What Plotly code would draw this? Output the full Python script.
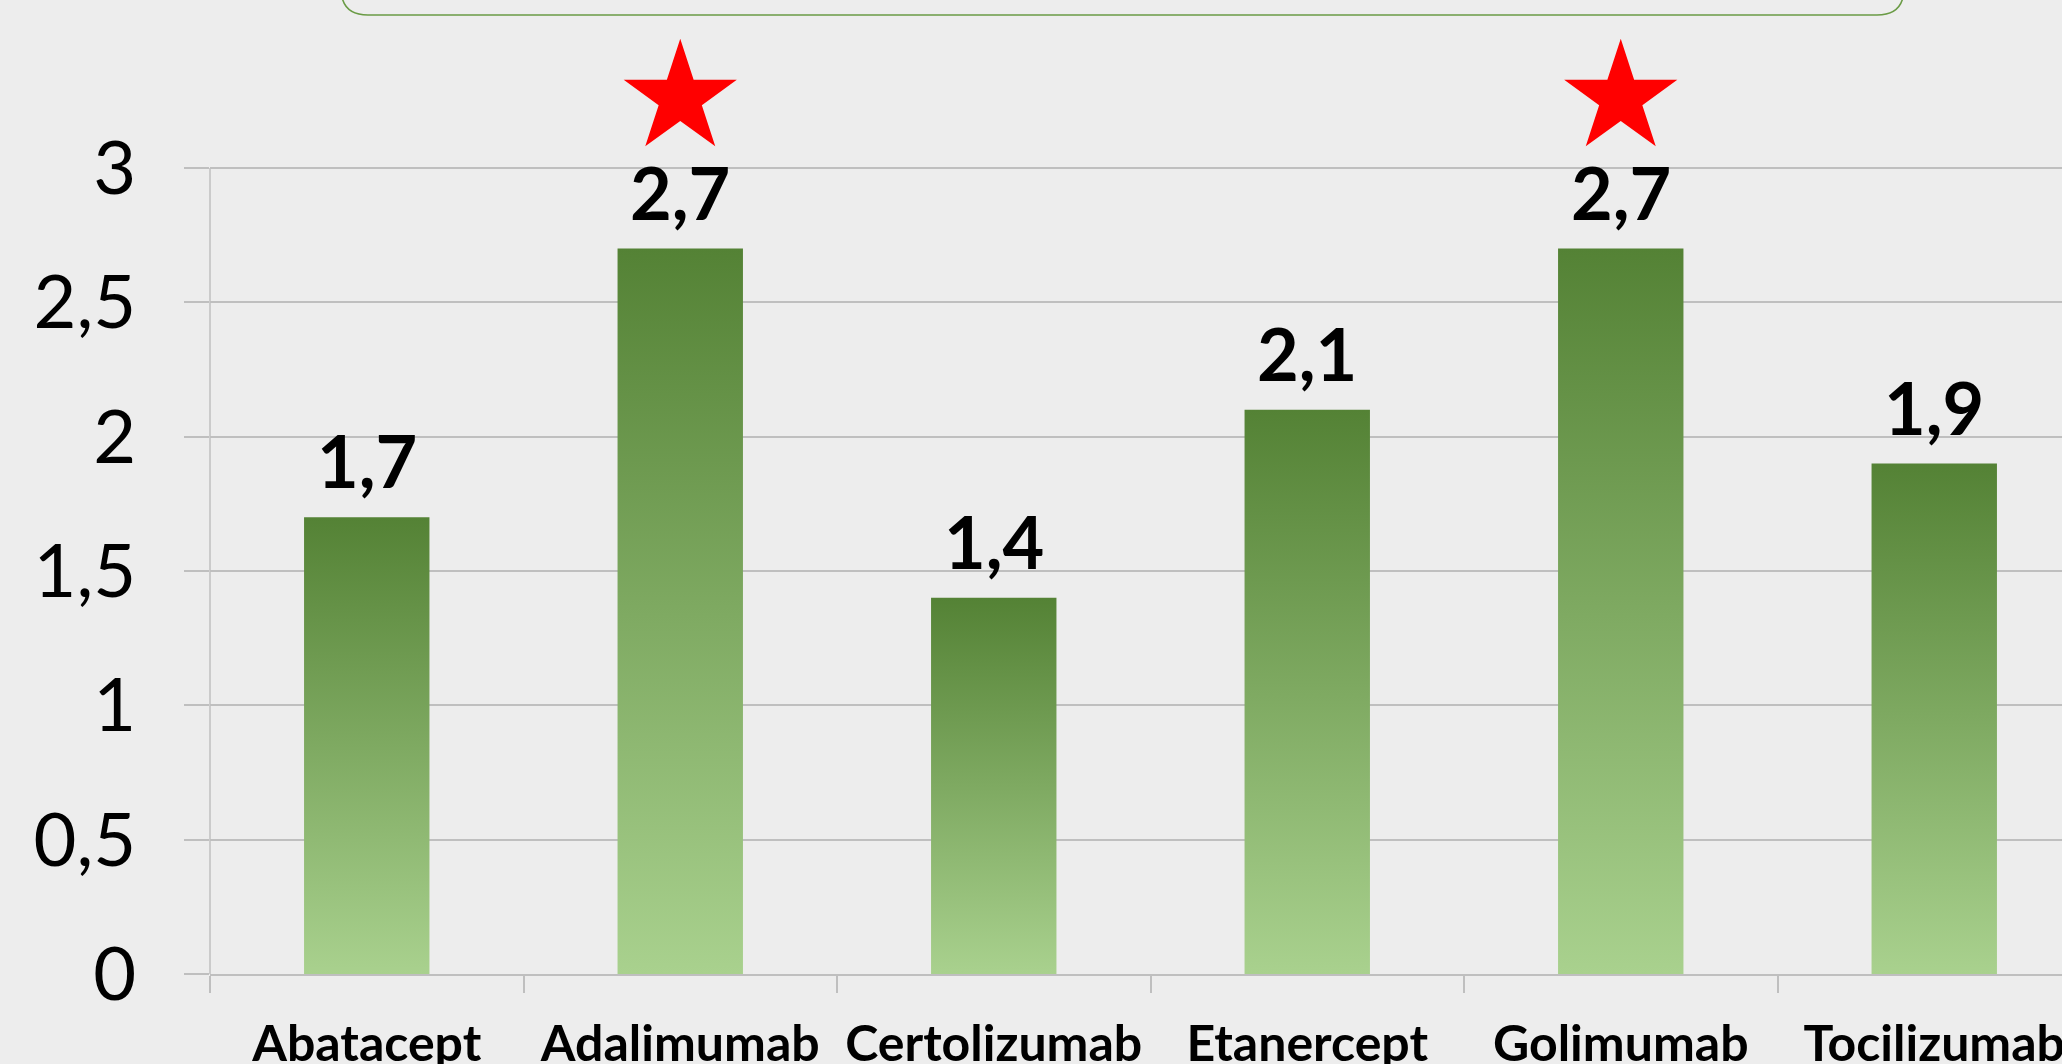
import plotly.graph_objects as go

# ---- data ----
categories = ["Abatacept", "Adalimumab", "Certolizumab", "Etanercept", "Golimumab", "Tocilizumab"]
values = [1.7, 2.7, 1.4, 2.1, 2.7, 1.9]
value_labels = ["1,7", "2,7", "1,4", "2,1", "2,7", "1,9"]
starred = [False, True, False, False, True, False]
y_tickvals = [0, 0.5, 1, 1.5, 2, 2.5, 3]
y_ticktext = ["0", "0,5", "1", "1,5", "2", "2,5", "3"]

# ---- style ----
BAR_WIDTH = 0.4
DARK = "#548235"
LIGHT = "#A9D18E"
BG = "#EDEDED"
GRID = "#BFBFBF"
FONT = "Lato"
W, H = 2062, 1064
ML, MR, MB = 210, 0, 90
BASE_PX = H - MB          # pixel row of y = 0
TOP_TICK_PX = 168         # pixel row of y = 3
UNIT_PX = (BASE_PX - TOP_TICK_PX) / max(y_tickvals)
MT = 7
Y_TOP = (BASE_PX - MT) / UNIT_PX
CAT_PX = 313.5
STAR_OFFSET = 0.56

fig = go.Figure()

# gradient bars (one filled trace per bar, geometry from the data)
for i, (cat, v) in enumerate(zip(categories, values)):
    fig.add_trace(go.Scatter(
        x=[i - BAR_WIDTH / 2, i + BAR_WIDTH / 2], y=[v, v],
        mode="lines", line=dict(width=0, color=DARK),
        fill="tozeroy",
        fillgradient=dict(type="vertical", colorscale=[[0, LIGHT], [1, DARK]], start=0, stop=v),
        name=cat, showlegend=False, hoverinfo="x+y",
    ))

# stars for significant results
star_x = [i for i, s in enumerate(starred) if s]
star_y = [values[i] + STAR_OFFSET for i in star_x]
fig.add_trace(go.Scatter(
    x=star_x, y=star_y, mode="markers",
    marker=dict(symbol="star", size=85, color="#FF0000", line=dict(width=0)),
    showlegend=False, hoverinfo="skip",
))

# value labels
for i, (v, t) in enumerate(zip(values, value_labels)):
    fig.add_annotation(x=i, y=v, text=t, showarrow=False, yanchor="bottom",
                       yshift=12, font=dict(family=FONT, size=72, color="black", weight="bold"))

# y axis line only up to the last tick
fig.add_shape(type="line", xref="paper", yref="y", x0=0, x1=0, y0=0, y1=max(y_tickvals),
              line=dict(color=GRID, width=1.5), layer="above")

# rounded box at top (decoration)
pw, ph = W - ML - MR, H - MT - MB
def px_x(p):
    return (p - ML) / pw
def px_y(p):
    return (H - MB - p) / ph
x0, x1 = px_x(341), px_x(1904)
yb, yt = px_y(15), px_y(-10)
rx, ry = 27 / pw, 27 / ph
path = (f"M {x0},{yt} L {x0},{yb + ry} Q {x0},{yb} {x0 + rx},{yb} "
        f"L {x1 - rx},{yb} Q {x1},{yb} {x1},{yb + ry} L {x1},{yt}")
fig.add_shape(type="path", path=path, xref="paper", yref="paper",
              line=dict(color="#6A9B45", width=1.5), layer="above")

n_visible = pw / CAT_PX
fig.update_layout(
    width=W, height=H,
    margin=dict(l=ML, r=MR, t=MT, b=MB, autoexpand=False),
    paper_bgcolor=BG, plot_bgcolor=BG,
    showlegend=False,
    xaxis=dict(
        range=[-0.5, -0.5 + n_visible], automargin=False,
        tickmode="array", tickvals=list(range(len(categories))), ticktext=categories,
        ticks="", showgrid=False, zeroline=False,
        showline=True, linecolor=GRID, linewidth=2,
        tickfont=dict(family=FONT, size=50, color="black", weight="bold"),
        ticklabelstandoff=25, ticklabeloverflow="allow",
        minor=dict(tickmode="array", tickvals=[i - 0.5 for i in range(len(categories) + 1)],
                   ticks="outside", ticklen=17, tickwidth=1.5, tickcolor=GRID, showgrid=False),
    ),
    yaxis=dict(
        range=[0, Y_TOP], automargin=False,
        tickmode="array", tickvals=y_tickvals, ticktext=y_ticktext,
        ticks="outside", ticklen=25, tickwidth=2, tickcolor=GRID,
        showgrid=True, gridcolor=GRID, gridwidth=2,
        showline=False, zeroline=False,
        tickfont=dict(family=FONT, size=74, color="black"),
        ticklabelstandoff=33,
    ),
)

fig.write_html("out.html", config={"displayModeBar": False},
               post_script="document.body.style.margin='0';document.body.style.overflow='hidden';")
